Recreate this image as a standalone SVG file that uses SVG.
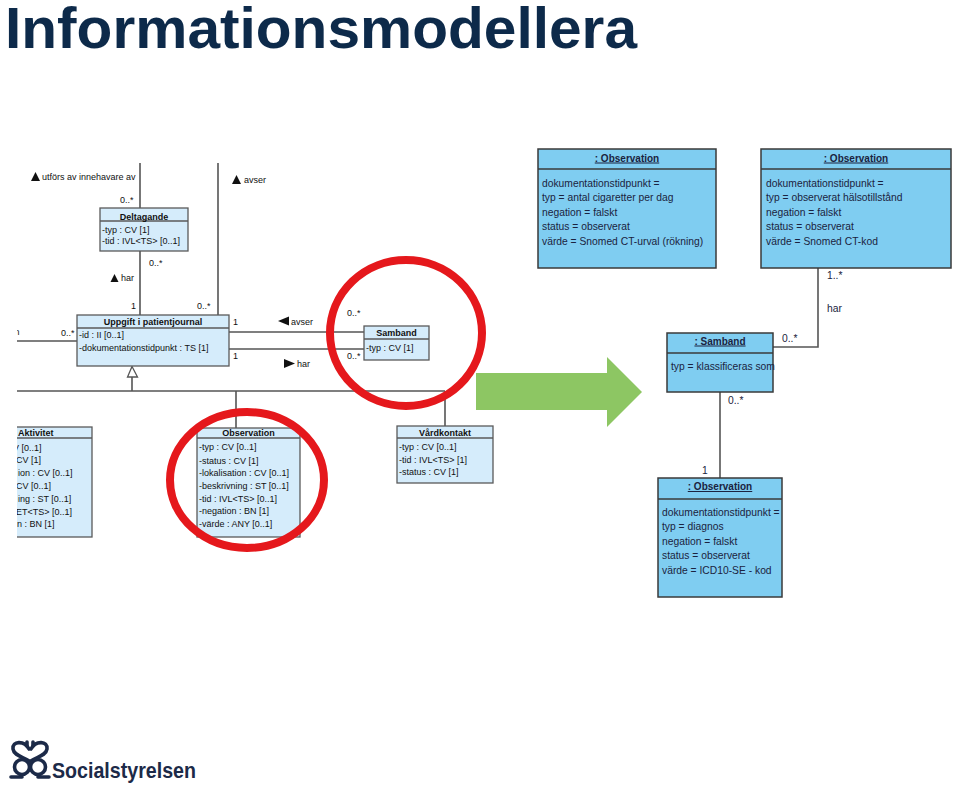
<svg xmlns="http://www.w3.org/2000/svg" width="960" height="787" viewBox="0 0 960 787">
<style>
.t{font-family:"Liberation Sans",Arial,sans-serif;font-size:9px;fill:#111}
.b{font-weight:bold}
.lb{fill:#d5ecfb;stroke:#5a5a5a;stroke-width:1.3}
.ln{stroke:#5a5a5a;stroke-width:1.3;fill:none}
.rb{fill:#7fcdf1;stroke:#3a3a3a;stroke-width:1.5}
.rl{stroke:#3a3a3a;stroke-width:1.5;fill:none}
.c{stroke:#555;stroke-width:1.6;fill:none}
.r{font-family:"Liberation Sans",Arial,sans-serif;font-size:10.3px;fill:#1b2340}
.rh{font-family:"Liberation Sans",Arial,sans-serif;font-size:10px;font-weight:bold;fill:#1b2340;text-decoration:underline}
.tri{fill:#111}
.red{fill:none;stroke:#e5181c;stroke-width:8}
</style>
<defs>
<clipPath id="cl"><rect x="17" y="0" width="943" height="787"/></clipPath>
</defs>
<rect width="960" height="787" fill="#fff"/>
<text x="5" y="48" font-family="'Liberation Sans',Arial,sans-serif" font-size="58" font-weight="bold" fill="#0d2a4a" textLength="632" lengthAdjust="spacingAndGlyphs">Informationsmodellera</text>

<g id="connectors">
<path class="c" d="M140 163V208M140 251V315M218 163V315"/>
<path class="c" d="M229 332H364M229 349H364" clip-path="url(#cl)"/>
<path class="c" d="M10 341H77" clip-path="url(#cl)"/>
<path class="c" d="M132 377V391M10 391H445M236 391V428M445 391V426" clip-path="url(#cl)"/>
<polygon points="132,366.5 127.5,377 137.5,377" fill="#fff" stroke="#555" stroke-width="1.3"/>
<path class="c" d="M818 268V347H773M720 392V478" stroke="#444"/>
</g>

<g id="labels">
<polygon class="tri" points="35.5,172 31,181 40,181"/>
<text class="t" x="42" y="180">utförs av innehavare av</text>
<text class="t" x="120" y="203">0..*</text>
<polygon class="tri" points="236.5,175 232,184 241,184"/>
<text class="t" x="244" y="183">avser</text>
<text class="t" x="149" y="266">0..*</text>
<polygon class="tri" points="114.5,274 110.5,282 118.5,282"/>
<text class="t" x="121" y="281">har</text>
<text class="t" x="131" y="309">1</text>
<text class="t" x="197" y="309">0..*</text>
<text class="t" x="233" y="325">1</text>
<polygon class="tri" points="278,321 289,316.5 289,325.5"/>
<text class="t" x="291" y="325">avser</text>
<text class="t" x="347" y="316">0..*</text>
<text class="t" x="233" y="359">1</text>
<polygon class="tri" points="295,363.5 284,359 284,368"/>
<text class="t" x="297" y="367">har</text>
<text class="t" x="347" y="359">0..*</text>
<text class="t" x="12" y="335" clip-path="url(#cl)">m</text>
<text class="t" x="61" y="336">0..*</text>
<text class="r" x="827" y="279">1..*</text>
<text class="r" x="827" y="312">har</text>
<text class="r" x="782" y="342">0..*</text>
<text class="r" x="728" y="404">0..*</text>
<text class="r" x="702" y="474">1</text>
</g>

<g id="deltagande">
<rect class="lb" x="100" y="208" width="88" height="43"/>
<path class="ln" d="M100 221H188"/>
<text class="t b" x="144" y="220" text-anchor="middle">Deltagande</text>
<text class="t" x="102" y="233">-typ : CV [1]</text>
<text class="t" x="102" y="244">-tid : IVL&lt;TS&gt; [0..1]</text>
</g>

<g id="uppgift">
<rect class="lb" x="77" y="315" width="152" height="51"/>
<path class="ln" d="M77 328H229"/>
<text class="t b" x="153" y="325" text-anchor="middle">Uppgift i patientjournal</text>
<text class="t" x="79" y="338">-id : II [0..1]</text>
<text class="t" x="79" y="351">-dokumentationstidpunkt : TS [1]</text>
</g>

<g id="samband-left">
<rect class="lb" x="364" y="326" width="65" height="34"/>
<path class="ln" d="M364 339H429"/>
<text class="t b" x="396.5" y="336" text-anchor="middle">Samband</text>
<text class="t" x="366" y="351">-typ : CV [1]</text>
</g>

<g id="aktivitet" clip-path="url(#cl)">
<rect class="lb" x="8" y="427" width="84" height="110"/>
<path class="ln" d="M8 438H92"/>
<text class="t b" x="18" y="435.5">Aktivitet</text>
<text class="t" x="13" y="451">V [0..1]</text>
<text class="t" x="16" y="463">CV [1]</text>
<text class="t" x="18" y="475.5">ion : CV [0..1]</text>
<text class="t" x="16" y="489">CV [0..1]</text>
<text class="t" x="18" y="502">ing : ST [0..1]</text>
<text class="t" x="16" y="514.5">ET&lt;TS&gt; [0..1]</text>
<text class="t" x="17" y="527">n : BN [1]</text>
</g>

<g id="observation-left">
<rect class="lb" x="197" y="428" width="103" height="109"/>
<path class="ln" d="M197 438H300"/>
<text class="t b" x="248.5" y="436" text-anchor="middle">Observation</text>
<text class="t" x="199" y="450">-typ : CV [0..1]</text>
<text class="t" x="199" y="463.5">-status : CV [1]</text>
<text class="t" x="199" y="475.5">-lokalisation : CV [0..1]</text>
<text class="t" x="199" y="489">-beskrivning : ST [0..1]</text>
<text class="t" x="199" y="501.5">-tid : IVL&lt;TS&gt; [0..1]</text>
<text class="t" x="199" y="513.5">-negation : BN [1]</text>
<text class="t" x="199" y="527">-värde : ANY [0..1]</text>
</g>

<g id="vardkontakt">
<rect class="lb" x="397" y="426" width="96" height="57"/>
<path class="ln" d="M397 438H493"/>
<text class="t b" x="445" y="436" text-anchor="middle">Vårdkontakt</text>
<text class="t" x="399" y="450">-typ : CV [0..1]</text>
<text class="t" x="399" y="463">-tid : IVL&lt;TS&gt; [1]</text>
<text class="t" x="399" y="475">-status : CV [1]</text>
</g>

<g id="highlights">
<ellipse class="red" cx="406" cy="333" rx="76" ry="73"/>
<ellipse class="red" cx="247" cy="480" rx="77" ry="68"/>
</g>

<g id="arrow">
<polygon points="476,373 607,373 607,357 642,392 607,427 607,410 476,410" fill="#8dc663"/>
</g>

<g id="observation-1">
<rect class="rb" x="538" y="149" width="178" height="119"/>
<path class="rl" d="M538 169H716"/>
<text class="rh" x="627" y="161.5" text-anchor="middle">: Observation</text>
<text class="r" x="542" y="186.5">dokumentationstidpunkt =</text>
<text class="r" x="542" y="201">typ = antal cigaretter per dag</text>
<text class="r" x="542" y="215.5">negation = falskt</text>
<text class="r" x="542" y="230">status = observerat</text>
<text class="r" x="542" y="244.5">värde = Snomed CT-urval (rökning)</text>
</g>

<g id="observation-2">
<rect class="rb" x="761" y="149" width="190" height="119"/>
<path class="rl" d="M761 169H951"/>
<text class="rh" x="856" y="161.5" text-anchor="middle">: Observation</text>
<text class="r" x="766" y="186.5">dokumentationstidpunkt =</text>
<text class="r" x="766" y="201">typ = observerat hälsotillstånd</text>
<text class="r" x="766" y="215.5">negation = falskt</text>
<text class="r" x="766" y="230">status = observerat</text>
<text class="r" x="766" y="244.5">värde = Snomed CT-kod</text>
</g>

<g id="samband-right">
<rect class="rb" x="667" y="333" width="106" height="59"/>
<path class="rl" d="M667 353H773"/>
<text class="rh" x="720" y="344.5" text-anchor="middle">: Samband</text>
<text class="r" x="671" y="370">typ = klassificeras som</text>
</g>

<g id="observation-3">
<rect class="rb" x="658" y="478" width="124" height="119"/>
<path class="rl" d="M658 499H782"/>
<text class="rh" x="720" y="490" text-anchor="middle">: Observation</text>
<text class="r" x="662" y="515.5">dokumentationstidpunkt =</text>
<text class="r" x="662" y="530">typ = diagnos</text>
<text class="r" x="662" y="544.5">negation = falskt</text>
<text class="r" x="662" y="559">status = observerat</text>
<text class="r" x="662" y="573.5">värde = ICD10-SE - kod</text>
</g>

<g id="logo">
<g fill="none" stroke="#1c2a48" stroke-width="3.6" stroke-linecap="round">
<path d="M29 749C24 740 12 741 13 749C14 756 24 757 29 761"/>
<path d="M31 749C36 740 48 741 47 749C46 756 36 757 31 761"/>
<circle cx="22" cy="767" r="7.5"/>
<circle cx="38" cy="767" r="7.5"/>
<path d="M11 777H22M38 777H49"/>
<path d="M27 742V746M33 742V746"/>
</g>
<text x="52" y="778" font-family="'Liberation Sans',Arial,sans-serif" font-size="22" font-weight="bold" fill="#1c2a48" textLength="144" lengthAdjust="spacingAndGlyphs">Socialstyrelsen</text>
</g>
</svg>
